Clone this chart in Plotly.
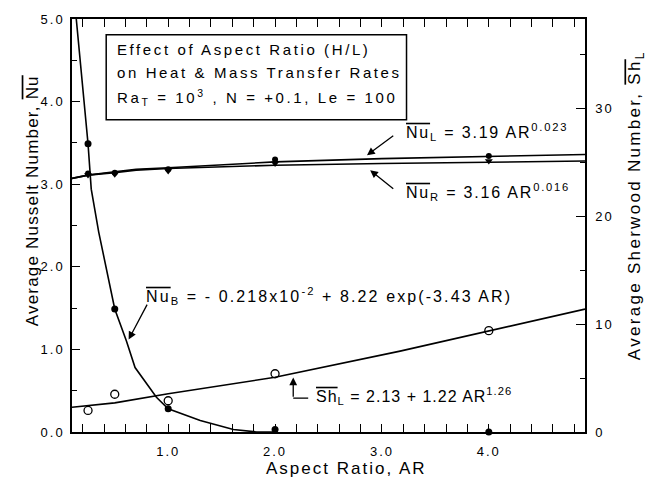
import plotly.graph_objects as go

# ---- data ----
ar_pts = [0.25, 0.5, 1.0, 2.0, 4.0]
nu_b_pts = [3.49, 1.49, 0.28, 0.03, 0.0]
nu_l_pts = [3.13, 3.14, 3.18, 3.30, 3.34]
nu_r_pts = [3.11, 3.12, 3.16, 3.25, 3.28]
sh_l_pts = [2.0, 3.5, 2.9, 5.4, 9.4]

nu_b_curve_ar = [0.14, 0.25, 0.28, 0.35, 0.5, 0.61, 0.69, 0.89, 1.0, 1.3, 1.61, 1.83, 2.0]
nu_b_curve = [5.0, 3.49, 2.94, 2.42, 1.49, 1.10, 0.78, 0.42, 0.28, 0.14, 0.03, 0.0, 0.0]

nu_lr_curve_ar = [0.1, 0.25, 0.5, 0.7, 1.0, 2.0, 3.0, 4.0, 4.9]
nu_l_curve = [3.07, 3.11, 3.15, 3.18, 3.20, 3.27, 3.31, 3.34, 3.36]
nu_r_curve = [3.07, 3.11, 3.14, 3.17, 3.19, 3.23, 3.25, 3.27, 3.28]

sh_curve_ar = [0.1, 0.5, 1.0, 2.0, 3.17, 4.0, 4.9]
sh_curve = [2.3, 2.7, 3.55, 5.07, 7.5, 9.36, 11.4]

x_ticks = [1.0, 2.0, 3.0, 4.0]
y_ticks = [0.0, 1.0, 2.0, 3.0, 4.0, 5.0]
y2_ticks = [0, 10, 20, 30]

FONT = "Liberation Sans, Arial, sans-serif"


def ol(s):
    return f'<span style="text-decoration:overline">{s}</span>'


def sp(s, px):
    return f'<span style="letter-spacing:{px}px">{s}</span>'


fig = go.Figure()
line = dict(color="black", width=1.6)

fig.add_trace(go.Scatter(x=nu_b_curve_ar, y=nu_b_curve, mode="lines", line=line, showlegend=False))
fig.add_trace(go.Scatter(x=nu_lr_curve_ar, y=nu_l_curve, mode="lines", line=line, showlegend=False))
fig.add_trace(go.Scatter(x=nu_lr_curve_ar, y=nu_r_curve, mode="lines", line=line, showlegend=False))
fig.add_trace(go.Scatter(x=sh_curve_ar, y=sh_curve, mode="lines", line=line, yaxis="y2", showlegend=False))

fig.add_trace(go.Scatter(x=ar_pts, y=nu_b_pts, mode="markers",
                         marker=dict(symbol="circle", size=7, color="black"), showlegend=False, cliponaxis=False))
fig.add_trace(go.Scatter(x=ar_pts, y=nu_l_pts, mode="markers",
                         marker=dict(symbol="circle", size=6, color="black"), showlegend=False))
fig.add_trace(go.Scatter(x=ar_pts, y=nu_r_pts, mode="markers",
                         marker=dict(symbol="triangle-down", size=7, color="black"), showlegend=False))
fig.add_trace(go.Scatter(x=ar_pts, y=sh_l_pts, mode="markers", yaxis="y2",
                         marker=dict(symbol="circle-open", size=8, color="black", line=dict(width=1.3)),
                         showlegend=False))

tickfont = dict(family=FONT, size=13, color="black")
titlefont = dict(family=FONT, size=17, color="black")

fig.update_layout(
    width=658, height=479,
    margin=dict(l=72, r=73, t=15, b=47),
    paper_bgcolor="white", plot_bgcolor="white",
    xaxis=dict(range=[0.1, 4.9], tickvals=x_ticks, ticktext=[sp(f"{v:.1f}", 2) for v in x_ticks],
               ticks="inside", ticklen=8, tickwidth=1.3, tickcolor="black",
               minor=dict(dtick=0.2, tick0=0, ticks="inside", ticklen=4, tickwidth=1.2, tickcolor="black"),
               showline=True, linecolor="black", linewidth=1.5, mirror="allticks",
               showgrid=False, zeroline=False, tickfont=tickfont, ticklabelstandoff=7),
    yaxis=dict(range=[0, 5], tickvals=y_ticks, ticktext=[sp(f"{v:.1f}", 2) for v in y_ticks],
               ticks="inside", ticklen=8, tickwidth=1.3, tickcolor="black",
               minor=dict(dtick=0.5, tick0=0, ticks="inside", ticklen=5, tickwidth=1.2, tickcolor="black"),
               showline=True, linecolor="black", linewidth=1.5,
               showgrid=False, zeroline=False, tickfont=tickfont, ticklabelstandoff=3),
    yaxis2=dict(range=[0, 38.3], overlaying="y", side="right", tickvals=y2_ticks,
                ticktext=[sp(str(v), 2) for v in y2_ticks],
                ticks="inside", ticklen=9, tickwidth=1.3, tickcolor="black",
                minor=dict(dtick=5, tick0=0, ticks="inside", ticklen=5, tickwidth=1.2, tickcolor="black"),
                showline=True, linecolor="black", linewidth=1.5,
                showgrid=False, zeroline=False, tickfont=tickfont, ticklabelstandoff=6),
)

# Axis titles (placed as annotations to match the reference offsets)
fig.add_annotation(x=0.535, y=-0.089, xref="paper", yref="paper", xanchor="center", yanchor="middle",
                   showarrow=False, text=sp("Aspect Ratio, AR", 2), font=titlefont)
fig.add_annotation(x=-0.078, y=0.561, xref="paper", yref="paper", xanchor="center", yanchor="middle",
                   showarrow=False, textangle=-90,
                   text=sp(f"Average Nusselt Number, {ol('Nu')}", 1.2), font=titlefont)
fig.add_annotation(x=1.10, y=0.55, xref="paper", yref="paper", xanchor="center", yanchor="middle",
                   showarrow=False, textangle=-90,
                   text=sp(f"Average Sherwood Number, {ol('Sh')}<sub>L</sub>", 2.3), font=titlefont)

# Box with title text
fig.add_shape(type="rect", x0=0.42, x1=3.23, y0=3.78, y1=4.81, xref="x", yref="y",
              line=dict(color="black", width=1.5), fillcolor="white", layer="above")
box_lines = ["Effect of Aspect Ratio (H/L)",
             "on Heat &amp; Mass Transfer Rates",
             "Ra<sub>T</sub> = 10<sup>3</sup> , N = +0.1, Le = 100"]
box_y = [4.63, 4.35, 4.05]
for t, yy in zip(box_lines, box_y):
    fig.add_annotation(x=0.505, y=yy, xref="x", yref="y", xanchor="left", yanchor="middle",
                       text=sp(t, 2.6), showarrow=False,
                       font=dict(family=FONT, size=15, color="black"))

ann_font = dict(family=FONT, size=16, color="black")
fig.add_annotation(x=3.21, y=3.63, xref="x", yref="y", xanchor="left", yanchor="middle", showarrow=False,
                   text=sp(f'{ol("Nu")}<sub>L</sub> = 3.19 AR<sup>0.023</sup>', 1.8), font=ann_font)
fig.add_annotation(x=3.21, y=2.90, xref="x", yref="y", xanchor="left", yanchor="middle", showarrow=False,
                   text=sp(f'{ol("Nu")}<sub>R</sub> = 3.16 AR<sup>0.016</sup>', 1.8), font=ann_font)
fig.add_annotation(x=0.77, y=1.65, xref="x", yref="y", xanchor="left", yanchor="middle", showarrow=False,
                   text=sp(f'{ol("Nu")}<sub>B</sub> = - 0.218x10<sup>-2</sup> + 8.22 exp(-3.43 AR)', 2.1),
                   font=ann_font)
fig.add_annotation(x=2.36, y=0.44, xref="x", yref="y", xanchor="left", yanchor="middle", showarrow=False,
                   text=sp(f'{ol("Sh")}<sub>L</sub> = 2.13 + 1.22 AR<sup>1.26</sup>', 1.0), font=ann_font)

# Arrows
arrows = [((3.12, 3.60), (2.86, 3.35)),
          ((3.12, 2.93), (2.89, 3.17)),
          ((0.81, 1.56), (0.63, 1.12)),
          ((2.17, 0.41), (2.17, 0.66))]
for (tx, ty), (hx, hy) in arrows:
    fig.add_annotation(x=hx, y=hy, ax=tx, ay=ty, xref="x", yref="y", axref="x", ayref="y",
                       text="", showarrow=True, arrowhead=2, arrowsize=1.2, arrowwidth=1.3, arrowcolor="black")
fig.add_shape(type="line", x0=2.17, x1=2.31, y0=0.41, y1=0.41, xref="x", yref="y",
              line=dict(color="black", width=1.3))

fig.write_html("out.html")
